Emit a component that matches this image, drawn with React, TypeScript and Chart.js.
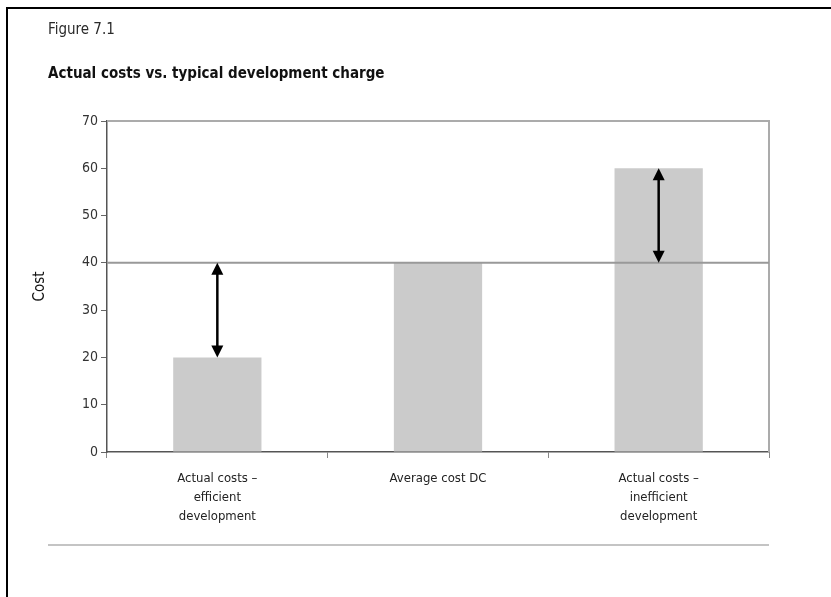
import React, { useEffect, useRef } from "react";
import { Chart, registerables } from "chart.js";

Chart.register(...registerables);

const categories: string[][] = [
  ["Actual costs –", "efficient", "development"],
  ["Average cost DC"],
  ["Actual costs –", "inefficient", "development"],
];
const costValues: number[] = [20, 40, 60];
const referenceCost = 40;
const yMin = 0;
const yMax = 70;
const yStep = 10;
const figureLabel = "Figure 7.1";
const chartTitle = "Actual costs vs. typical development charge";
const yAxisTitle = "Cost";

const FONT = "'Liberation Sans Narrow', 'DejaVu Sans Condensed', 'Open Sans', sans-serif";

const W = 831;
const H = 597;

const decorPlugin = {
  id: "decor",
  beforeDraw(chart: any) {
    const ctx = chart.ctx;
    ctx.save();
    ctx.fillStyle = "#ffffff";
    ctx.fillRect(0, 0, W, H);
    // frame (left + top)
    ctx.strokeStyle = "#000";
    ctx.lineWidth = 2;
    ctx.beginPath();
    ctx.moveTo(7, H);
    ctx.lineTo(7, 8);
    ctx.lineTo(W, 8);
    ctx.stroke();
    // texts
    ctx.fillStyle = "#2a2a2a";
    ctx.textBaseline = "alphabetic";
    ctx.textAlign = "left";
    ctx.font = `15px ${FONT}`;
    ctx.fillText(figureLabel, 48, 34);
    ctx.fillStyle = "#111";
    ctx.font = `bold 15px ${FONT}`;
    ctx.fillText(chartTitle, 48, 78);
    // separator
    ctx.strokeStyle = "#c4c4c4";
    ctx.lineWidth = 2;
    ctx.beginPath();
    ctx.moveTo(48, 545);
    ctx.lineTo(769, 545);
    ctx.stroke();
    ctx.restore();
  },
  afterDatasetsDraw(chart: any) {
    const ctx = chart.ctx;
    const area = chart.chartArea;
    const xs = chart.scales.x;
    const ys = chart.scales.y;
    ctx.save();
    // plot border top and right
    ctx.strokeStyle = "#ababab";
    ctx.lineWidth = 2;
    ctx.beginPath();
    ctx.moveTo(area.left, area.top);
    ctx.lineTo(area.right, area.top);
    ctx.lineTo(area.right, area.bottom);
    ctx.stroke();
    // reference line
    const yRef = ys.getPixelForValue(referenceCost);
    ctx.strokeStyle = "#999999";
    ctx.lineWidth = 2;
    ctx.beginPath();
    ctx.moveTo(area.left, yRef);
    ctx.lineTo(area.right, yRef);
    ctx.stroke();
    // arrows
    ctx.strokeStyle = "#000";
    ctx.fillStyle = "#000";
    costValues.forEach((v, i) => {
      if (v === referenceCost) return;
      const x = xs.getPixelForValue(i);
      const yV = ys.getPixelForValue(v);
      const top = Math.min(yV, yRef);
      const bot = Math.max(yV, yRef);
      const hl = 12;
      const hw = 6;
      ctx.lineWidth = 2.5;
      ctx.beginPath();
      ctx.moveTo(x, top + hl - 1);
      ctx.lineTo(x, bot - hl + 1);
      ctx.stroke();
      ctx.beginPath();
      ctx.moveTo(x, top);
      ctx.lineTo(x - hw, top + hl);
      ctx.lineTo(x + hw, top + hl);
      ctx.closePath();
      ctx.fill();
      ctx.beginPath();
      ctx.moveTo(x, bot);
      ctx.lineTo(x - hw, bot - hl);
      ctx.lineTo(x + hw, bot - hl);
      ctx.closePath();
      ctx.fill();
    });
    ctx.restore();
  },
};

export default function App() {
  const ref = useRef<HTMLCanvasElement | null>(null);
  useEffect(() => {
    if (!ref.current) return;
    Chart.defaults.font.family = FONT;
    const chart = new Chart(ref.current, {
      type: "bar",
      data: {
        labels: categories,
        datasets: [
          {
            label: "Cost",
            data: costValues,
            backgroundColor: "#cbcbcb",
            borderWidth: 0,
            barPercentage: 0.4,
            categoryPercentage: 1,
          },
        ],
      },
      options: {
        animation: false,
        responsive: false,
        maintainAspectRatio: false,
        devicePixelRatio: 1,
        layout: { padding: { left: 0, top: 121, right: W - 769, bottom: 0 } },
        plugins: {
          legend: { display: false },
          tooltip: { enabled: false },
          title: { display: false },
        },
        scales: {
          x: {
            afterFit: (s: any) => {
              s.height = H - 121 - 331;
            },
            grid: {
              display: true,
              drawOnChartArea: false,
              drawTicks: true,
              tickLength: 6,
              color: "#888",
              offset: true,
            },
            border: { display: true, color: "#555", width: 1.5 },
            ticks: {
              color: "#222",
              font: { size: 13, lineHeight: 1.45 },
              padding: 11,
              maxRotation: 0,
              autoSkip: false,
            },
          },
          y: {
            min: yMin,
            max: yMax,
            afterFit: (s: any) => {
              s.width = 107;
            },
            grid: {
              display: true,
              drawOnChartArea: false,
              drawTicks: true,
              tickLength: 6,
              color: "#666",
            },
            border: { display: true, color: "#555", width: 1.5 },
            ticks: {
              stepSize: yStep,
              color: "#333",
              font: { size: 14 },
              padding: 3,
            },
            title: {
              display: true,
              text: yAxisTitle,
              color: "#111",
              font: { size: 15 },
              padding: { top: 31, bottom: 0 },
            },
          },
        },
      },
      plugins: [decorPlugin],
    });
    return () => chart.destroy();
  }, []);
  return (
    <div style={{ position: "absolute", left: 0, top: 0, width: W, height: H }}>
      <canvas ref={ref} width={W} height={H} style={{ width: W, height: H, display: "block" }} />
    </div>
  );
}
